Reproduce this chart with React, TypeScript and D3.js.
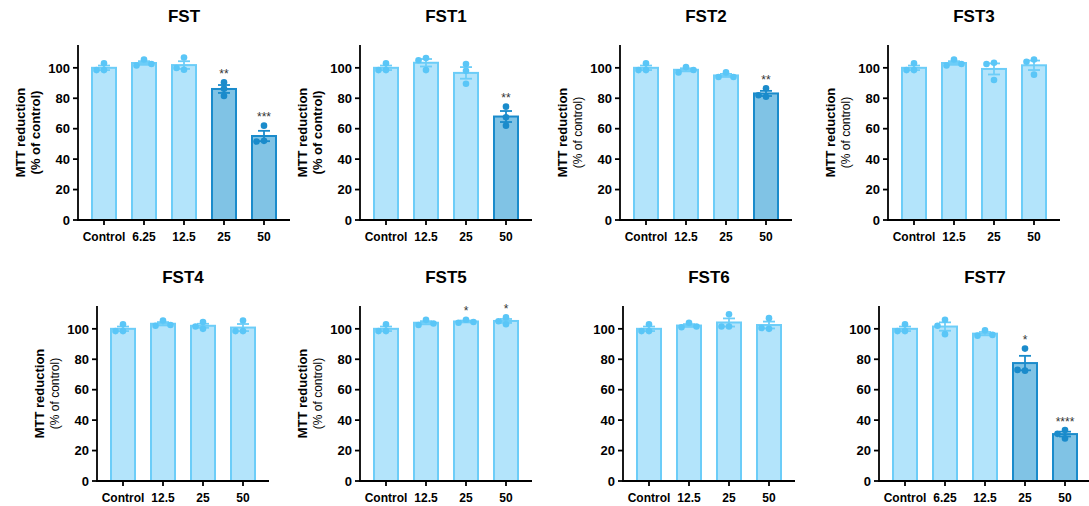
import * as d3 from "d3";
import React from "react";

// ---- data ----
const titles = ["FST", "FST1", "FST2", "FST3", "FST4", "FST5", "FST6", "FST7"];

const cats5 = ["Control", "6.25", "12.5", "25", "50"];
const cats4 = ["Control", "12.5", "25", "50"];
const categories = [cats5, cats4, cats4, cats4, cats4, cats4, cats4, cats5];

// three replicate values per bar (% of control)
const fstPoints = [[103, 98.5, 98.5], [105.5, 101.5, 102.5], [106.8, 98.7, 99.9], [90.5, 81.5, 86.3], [62, 52, 51.6]];
const fst1Points = [[103, 98.5, 98.5], [106.5, 98.5, 105], [102.5, 89.5, 98], [74.5, 67.5, 62]];
const fst2Points = [[103, 98.5, 98.5], [100.5, 97, 98.6], [97, 94, 94], [86.5, 81, 82]];
const fst3Points = [[103, 98.5, 98.5], [105.5, 101.5, 102.5], [103.3, 102.5, 92], [105.5, 104, 95.5]];
const fst4Points = [[103, 98.5, 98.5], [105.5, 102, 102.5], [104.5, 100, 101.5], [105.5, 98.5, 98.5]];
const fst5Points = [[103, 98.5, 98.5], [106, 102.5, 103.5], [106, 104, 104.5], [107.5, 103, 105]];
const fst6Points = [[103, 98.5, 98.5], [104, 101, 101.5], [109.5, 101.5, 101.5], [107, 100, 100.5]];
const fst7Points = [[103, 98.5, 98.5], [106, 96.5, 102], [99, 95.5, 96], [87, 72.5, 73], [33.5, 31, 28]];
const points = [fstPoints, fst1Points, fst2Points, fst3Points, fst4Points, fst5Points, fst6Points, fst7Points];

const stars = [
  ["", "", "", "**", "***"],
  ["", "", "", "**"],
  ["", "", "", "**"],
  ["", "", "", ""],
  ["", "", "", ""],
  ["", "", "*", "*"],
  ["", "", "", ""],
  ["", "", "", "*", "****"],
];

// bars drawn in the darker blue
const highlighted = [
  [false, false, false, true, true],
  [false, false, false, true],
  [false, false, false, true],
  [false, false, false, false],
  [false, false, false, false],
  [false, false, false, false],
  [false, false, false, false],
  [false, false, false, true, true],
];

const yTicks = [0, 20, 40, 60, 80, 100];
// y label: "full" = both lines bold, "small" = second line small, "none"
const yLabelStyle = ["full", "full", "small", "small", "small", "small", "none", "none"];

// ---- layout ----
const W = 1089;
const H = 506;
const axisX = [78, 360, 620, 888, 97, 360, 623, 879];
const rowBase = [220, 481];
const plotH = 175;
const step = 40;
const font = "'Liberation Sans', Arial, Helvetica, sans-serif";

const light = { fill: "#b3e4fb", stroke: "#6ccdf8", dot: "#5ac6f7" };
const dark = { fill: "#80c3e5", stroke: "#1a8bcb", dot: "#1a8bcb" };

const R = 3.3;

function swarm(vals: number[], y: (v: number) => number) {
  const placed: { x: number; y: number }[] = [];
  vals.forEach((v) => {
    const yy = y(v);
    for (const off of [0, -7.5, 7.5, -15, 15]) {
      if (placed.every((p) => Math.hypot(p.x - off, p.y - yy) >= 2 * R - 0.3)) {
        placed.push({ x: off, y: yy });
        break;
      }
    }
  });
  return placed;
}

const Panel = ({ i }: { i: number }) => {
  const cats = categories[i];
  const row = i < 4 ? 0 : 1;
  const x0 = axisX[i];
  const base = rowBase[row];
  const x1 = x0 + step * (cats.length + 0.3);

  const x = d3.scaleBand<string>().domain(cats).range([x0, x1]).paddingInner(0.35).paddingOuter(0.325);
  const y = d3.scaleLinear().domain([0, 115]).range([base, base - plotH]);
  const bw = x.bandwidth();

  const labelMid = base - plotH / 2;
  const style = yLabelStyle[i];

  return (
    <g>
      <text x={(x0 + x1) / 2} y={row === 0 ? 22 : 283} textAnchor="middle" fontSize={17} fontWeight="bold" fontFamily={font}>
        {titles[i]}
      </text>

      {style !== "none" && (
        <g fontFamily={font} textAnchor="middle">
          <text transform={`translate(${x0 - 53},${labelMid}) rotate(-90)`} fontSize={13} fontWeight="bold">
            MTT reduction
          </text>
          {style === "full" ? (
            <text transform={`translate(${x0 - 38},${labelMid}) rotate(-90)`} fontSize={13} fontWeight="bold">
              (% of control)
            </text>
          ) : (
            <text transform={`translate(${x0 - 38},${labelMid}) rotate(-90)`} fontSize={12}>
              (% of control)
            </text>
          )}
        </g>
      )}

      {cats.map((c, j) => {
        const vals = points[i][j];
        const mean = d3.mean(vals) as number;
        const sem = (d3.deviation(vals) as number) / Math.sqrt(vals.length);
        const col = highlighted[i][j] ? dark : light;
        const cx = (x(c) as number) + bw / 2;
        const dots = swarm(vals, y);
        const topY = Math.min(y(mean + sem), ...dots.map((d) => d.y - R));
        return (
          <g key={c}>
            <rect x={(x(c) as number) + 1} y={y(mean)} width={bw - 2} height={base - y(mean)} fill={col.fill} stroke={col.stroke} strokeWidth={2} />
            <g stroke={col.stroke} strokeWidth={1.8}>
              <line x1={cx} x2={cx} y1={y(mean - sem)} y2={y(mean + sem)} />
              <line x1={cx - 6} x2={cx + 6} y1={y(mean + sem)} y2={y(mean + sem)} />
              <line x1={cx - 6} x2={cx + 6} y1={y(mean - sem)} y2={y(mean - sem)} />
            </g>
            {dots.map((d, k) => (
              <circle key={k} cx={cx + d.x} cy={d.y} r={R} fill={col.dot} />
            ))}
            {stars[i][j] && (
              <text x={cx} y={topY - 1} textAnchor="middle" fontSize={12} fill="#333" fontFamily={font}>
                {stars[i][j]}
              </text>
            )}
          </g>
        );
      })}

      {/* y axis */}
      <line x1={x0} x2={x0} y1={base - plotH} y2={base + 1} stroke="#000" strokeWidth={1.8} />
      {yTicks.map((t) => (
        <g key={t}>
          <line x1={x0 - 5} x2={x0} y1={y(t)} y2={y(t)} stroke="#000" strokeWidth={1.8} />
          <text x={x0 - 8} y={y(t)} dy="0.36em" textAnchor="end" fontSize={13} fontWeight="bold" fontFamily={font}>
            {t}
          </text>
        </g>
      ))}

      {/* x axis */}
      <line x1={x0 - 1} x2={x1} y1={base} y2={base} stroke="#000" strokeWidth={1.8} />
      {cats.map((c) => {
        const cx = (x(c) as number) + bw / 2;
        return (
          <g key={c}>
            <line x1={cx} x2={cx} y1={base} y2={base + 5} stroke="#000" strokeWidth={1.8} />
            <text x={cx} y={base + 21} textAnchor="middle" fontSize={12} fontWeight="bold" fontFamily={font}>
              {c}
            </text>
          </g>
        );
      })}
    </g>
  );
};

export default function App() {
  return (
    <svg width={W} height={H} style={{ position: "absolute", left: 0, top: 0, background: "#fff" }}>
      {titles.map((t, i) => (
        <Panel key={t} i={i} />
      ))}
    </svg>
  );
}
